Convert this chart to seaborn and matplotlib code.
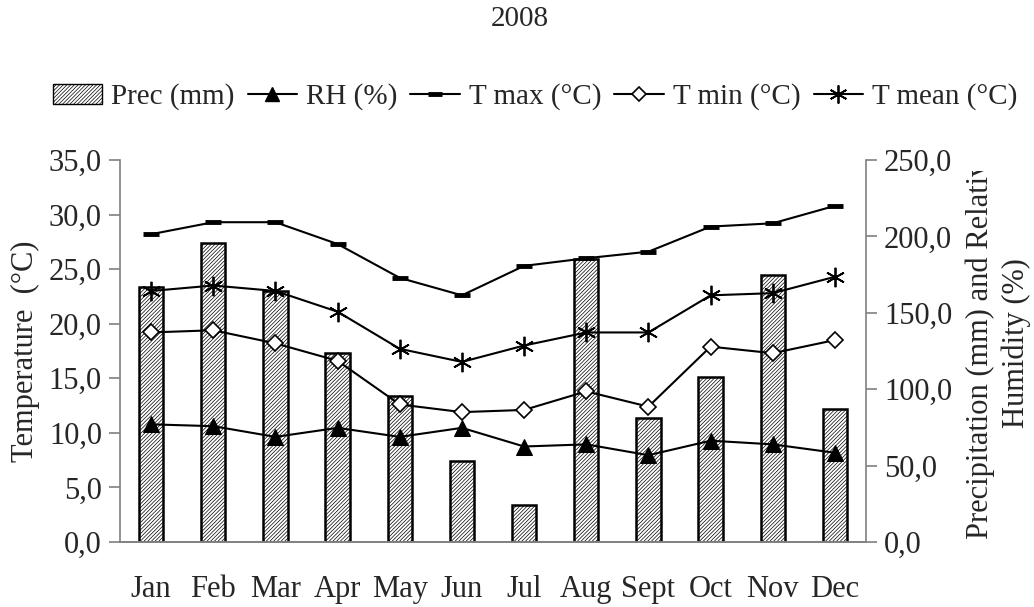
import numpy as np
import pandas as pd
import seaborn as sns
import matplotlib.pyplot as plt
from matplotlib.patches import Patch
from matplotlib.lines import Line2D
from matplotlib.transforms import Bbox

######################################
### Data

months = ['Jan', 'Feb', 'Mar', 'Apr', 'May', 'Jun', 'Jul', 'Aug', 'Sept', 'Oct', 'Nov', 'Dec']
prec_mm = [166.7, 196.0, 164.3, 123.9, 95.7, 53.1, 23.9, 185.0, 81.2, 107.8, 175.0, 87.0]
rh_pct = [77.0, 75.8, 68.8, 74.7, 68.8, 74.7, 62.5, 63.9, 56.8, 66.3, 63.9, 58.4]
t_max = [28.2, 29.3, 29.3, 27.3, 24.2, 22.6, 25.3, 26.0, 26.6, 28.9, 29.2, 30.8]
t_min = [19.2, 19.4, 18.2, 16.6, 12.6, 11.9, 12.1, 13.8, 12.4, 17.9, 17.3, 18.5]
t_mean = [23.0, 23.5, 23.0, 21.1, 17.7, 16.5, 18.0, 19.2, 19.2, 22.6, 22.8, 24.3]

left_ticks = [0, 5, 10, 15, 20, 25, 30, 35]
right_ticks = [0, 50, 100, 150, 200, 250]

df = pd.DataFrame({'month': months, 'prec': prec_mm, 'rh': rh_pct,
                   'tmax': t_max, 'tmin': t_min, 'tmean': t_mean})
df['pos'] = np.arange(len(months))

#####################################
### Plot

sns.set_style('white')
plt.rcParams['font.family'] = ['Liberation Serif', 'DejaVu Serif']
plt.rcParams['hatch.linewidth'] = 0.5
fs = 22
hatch = '/////////'

fig = plt.figure(figsize=(10.34, 6.07), dpi=100)
ax = fig.add_axes([120/1034, 1 - 542/607, 746/1034, 382/607])
ax2 = ax.twinx()

# bars on the right axis
sns.barplot(x='pos', y='prec', data=df, ax=ax2, order=list(range(12)), native_scale=True,
            width=0.39, color='white', edgecolor='black', linewidth=1.8, hatch=hatch,
            zorder=1)
sns.lineplot(x='pos', y='rh', data=df, ax=ax2, color='black', lw=1.5, marker='^',
             markersize=11, markeredgecolor='black', markerfacecolor='black', zorder=3)

# temperatures on the left axis
sns.lineplot(x='pos', y='tmax', data=df, ax=ax, color='black', lw=1.5, marker='_',
             markersize=11, markeredgewidth=3.5, markeredgecolor='black')
sns.lineplot(x='pos', y='tmin', data=df, ax=ax, color='black', lw=1.5, marker='D',
             markersize=8, markerfacecolor='white', markeredgecolor='black', markeredgewidth=1.2)
sns.lineplot(x='pos', y='tmean', data=df, ax=ax, color='black', lw=1.5, marker=(6, 2, 0),
             markersize=14, markeredgecolor='black', markeredgewidth=1.3)

ax.set_zorder(ax2.get_zorder() + 1)
ax.patch.set_visible(False)

ax.set_xlim(-0.5, 11.5)
ax.set_ylim(0, 35)
ax2.set_ylim(0, 250)

ax.set_yticks(left_ticks)
ax.set_yticklabels([('%.1f' % v).replace('.', ',') for v in left_ticks], fontsize=fs)
ax2.set_yticks(right_ticks)
ax2.set_yticklabels([('%.1f' % v).replace('.', ',') for v in right_ticks], fontsize=fs)

ax.set_xticks(range(12))
ax.set_xticklabels(months, fontsize=fs)
ax.set_xticks(np.arange(-0.5, 12, 1), minor=True)
ax.tick_params(axis='x', which='major', length=0, pad=24)
ax.tick_params(axis='x', which='minor', length=8, width=1.2, color='#808080', direction='out')
ax.tick_params(axis='y', length=8, width=1.2, color='#808080', direction='out', left=True, pad=5)
ax2.tick_params(axis='y', length=8, width=1.2, color='#808080', direction='out', right=True, pad=5)
ax2.tick_params(axis='x', length=0)

for a in (ax, ax2):
    a.set_xlabel('')
    a.set_ylabel('')
    a.spines['top'].set_visible(False)
    for s in ('left', 'right', 'bottom'):
        a.spines[s].set_color('#808080')
        a.spines[s].set_linewidth(1.2)
ax.spines['right'].set_visible(False)
ax2.spines['left'].set_visible(False)

ax.set_ylabel('Temperature  (°C)', fontsize=fs, labelpad=6)

# right label, cut off at the top like the original text box
rlab = fig.text(998/1034, 1 - 343/607, 'Precipitation (mm) and Relative\nHumidity (%)', fontsize=fs,
                rotation=90, ha='center', va='center', linespacing=1.3, multialignment='center')
rlab.set_clip_box(Bbox.from_extents(900, 0, 1034, 607 - 171))
rlab.set_clip_on(True)

fig.text(520/1034, 1 - 19/607, '2008', fontsize=21, ha='center', va='center')

handles = [
    Patch(facecolor='white', edgecolor='black', hatch=hatch, linewidth=1.0),
    Line2D([], [], color='black', lw=1.5, marker='^', markersize=10),
    Line2D([], [], color='black', lw=1.5, marker='_', markersize=10, markeredgewidth=3.5),
    Line2D([], [], color='black', lw=1.5, marker='D', markersize=7, markerfacecolor='white',
           markeredgewidth=1.2),
    Line2D([], [], color='black', lw=1.5, marker=(6, 2, 0), markersize=13, markeredgewidth=1.3),
]
labels = ['Prec (mm)', 'RH (%)', 'T max (°C)', 'T min (°C)', 'T mean (°C)']
fig.legend(handles, labels, loc='center', bbox_to_anchor=(535/1034, 1 - 97/607), ncol=5,
           frameon=False, fontsize=21, handlelength=1.7, handletextpad=0.3, columnspacing=0.45)

fig.savefig('out.png', dpi=100)
